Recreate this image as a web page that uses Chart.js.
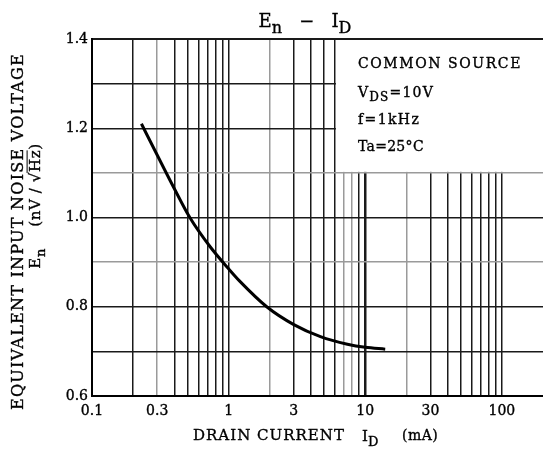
<!DOCTYPE html>
<html>
<head>
<meta charset="utf-8">
<script src="https://cdn.jsdelivr.net/npm/chart.js@4"></script>
<style>
  html, body { margin: 0; padding: 0; background: #fff; }
  canvas { display: block; }
</style>
</head>
<body>
<canvas id="enChart" width="543" height="458"></canvas>
<script>
// En vs ID curve
const drainCurrent = [0.23, 0.3, 0.4, 0.52, 0.73, 1.0, 1.2, 1.9, 3.0, 4.7, 7.4, 10, 14];
const noiseVoltage = [1.21, 1.14, 1.065, 1.0, 0.935, 0.885, 0.858, 0.80, 0.76, 0.733, 0.716, 0.709, 0.705];

// log grid of the x axis
const xGridValues = [0.1, 0.2, 0.3, 0.4, 0.5, 0.6, 0.7, 0.8, 0.9,
                     1, 2, 3, 4, 5, 6, 7, 8, 9,
                     10, 20, 30, 40, 50, 60, 70, 80, 90, 100];
const xTickValues = [0.1, 0.3, 1, 3, 10, 30, 100];
const xTickLabels = ['0.1', '0.3', '1', '3', '10', '30', '100'];
const xGrayLines = [0.3, 2, 7, 8, 20];

const yGridValues = [0.6, 0.7, 0.8, 0.9, 1.0, 1.1, 1.2, 1.3, 1.4];
const yTickValues = [0.6, 0.8, 1.0, 1.2, 1.4];
const yTickLabels = ['0.6', '0.8', '1.0', '1.2', '1.4'];
const yGrayLines = [0.9, 1.1];

// corner of the conditions box (x in mA, y in nV/√Hz)
const boxCorner = [6, 1.1];

const SERIF = '"DejaVu Serif", "Liberation Serif", serif';
const INK = '#000';

function near(a, b) {
    return Math.abs(a - b) / b < 1e-6;
}

function fontOf(size) {
    return size + 'px ' + SERIF;
}

// fill plus a hair stroke so the text reads as heavy as the printed one
function putText(ctx, text, x, y) {
    ctx.fillText(text, x, y);
    ctx.strokeText(text, x, y);
}

// draws a run of text pieces, some of them subscripted or overlined
function drawRun(ctx, parts, x, y, size, align, spacing) {
    const subSize = Math.round(size * 0.88);
    ctx.letterSpacing = (spacing || 0) + 'px';
    const widths = parts.map(p => {
        ctx.font = fontOf(p[1] === 'sub' ? subSize : size);
        return ctx.measureText(p[0]).width;
    });
    const total = widths.reduce((a, b) => a + b, 0);
    let cx = align === 'center' ? x - total / 2 : x;
    ctx.textAlign = 'left';
    parts.forEach((p, i) => {
        const sub = p[1] === 'sub';
        ctx.font = fontOf(sub ? subSize : size);
        putText(ctx, p[0], cx, y + (sub ? size * 0.32 : 0));
        if (p[1] === 'over') {
            ctx.save();
            ctx.lineWidth = 1;
            ctx.beginPath();
            ctx.moveTo(cx - 1, y - size * 0.86);
            ctx.lineTo(cx + widths[i] - (spacing || 0), y - size * 0.86);
            ctx.stroke();
            ctx.restore();
        }
        cx += widths[i];
    });
    ctx.letterSpacing = '0px';
}

// plain text stretched by letter spacing to a given width
function drawFitted(ctx, text, x, y, size, width, align) {
    ctx.font = fontOf(size);
    ctx.letterSpacing = '0px';
    const w0 = ctx.measureText(text).width;
    const s = (width - w0) / text.length;
    ctx.letterSpacing = s + 'px';
    ctx.textAlign = 'left';
    const startX = align === 'center' ? x - width / 2 : x;
    putText(ctx, text, startX, y);
    ctx.letterSpacing = '0px';
}

const textPlugin = {
    id: 'enText',
    beforeDatasetsDraw(chart) {
        const { ctx, chartArea, scales } = chart;
        const left = scales.x.getPixelForValue(boxCorner[0]) + 1;
        const bottom = scales.y.getPixelForValue(boxCorner[1]) - 1;
        ctx.save();
        ctx.fillStyle = '#fff';
        ctx.fillRect(left, chartArea.top + 1, chartArea.right - left, bottom - chartArea.top - 1);
        ctx.restore();
    },
    afterDraw(chart) {
        const { ctx, scales } = chart;
        ctx.save();
        ctx.fillStyle = INK;
        ctx.strokeStyle = INK;
        ctx.lineWidth = 0.35;
        ctx.textBaseline = 'alphabetic';

        // title
        drawRun(ctx, [['E'], ['n', 'sub'], ['   \u2212   '], ['I'], ['D', 'sub']], 305, 27, 18, 'center');

        // conditions box
        const bx = scales.x.getPixelForValue(boxCorner[0]) + 23;
        drawFitted(ctx, 'COMMON SOURCE', bx, 68, 14, 164, 'left');
        drawRun(ctx, [['V'], ['DS', 'sub'], ['=10V']], bx, 97, 14, 'left', 1.2);
        drawRun(ctx, [['f=1kHz']], bx, 124, 14, 'left', 1.4);
        drawRun(ctx, [['Ta=25\u00B0C']], bx, 151, 14, 'left', 0.3);

        // x axis title
        drawFitted(ctx, 'DRAIN CURRENT', 193, 440, 15, 152, 'left');
        drawRun(ctx, [['I'], ['D', 'sub']], 362, 441, 15, 'left');
        drawRun(ctx, [['(mA)']], 402, 440, 14, 'left', 0.5);

        // y axis title, two rotated lines
        ctx.save();
        ctx.translate(23, 231.5);
        ctx.rotate(-Math.PI / 2);
        drawFitted(ctx, 'EQUIVALENT INPUT NOISE VOLTAGE', 0, 0, 16, 357, 'center');
        ctx.restore();
        ctx.save();
        ctx.translate(40, 206);
        ctx.rotate(-Math.PI / 2);
        drawRun(ctx, [['E'], ['n', 'sub'], ['    (nV / \u221A'], ['Hz', 'over'], [')']], 0, 0, 15, 'center', 0.6);
        ctx.restore();

        ctx.restore();
    }
};

function initChart() {
    const ctx = document.getElementById('enChart').getContext('2d');

    new Chart(ctx, {
        type: 'line',
        data: {
            datasets: [{
                data: drainCurrent.map((x, i) => ({ x: x, y: noiseVoltage[i] })),
                borderColor: '#000',
                borderWidth: 3,
                pointRadius: 0,
                fill: false,
                cubicInterpolationMode: 'monotone'
            }]
        },
        options: {
            responsive: false,
            animation: false,
            layout: { padding: { top: 39, left: 0, right: 0, bottom: 0 } },
            plugins: {
                legend: { display: false },
                tooltip: { enabled: false },
                title: { display: false }
            },
            scales: {
                x: {
                    type: 'logarithmic',
                    min: 0.1,
                    max: 200,
                    afterBuildTicks: scale => {
                        scale.ticks = xGridValues.map(v => ({ value: v }));
                    },
                    afterFit: scale => { scale.height = 62; },
                    ticks: {
                        autoSkip: false,
                        maxRotation: 0,
                        padding: 7,
                        color: INK,
                        textStrokeColor: INK,
                        textStrokeWidth: 0.35,
                        font: { family: SERIF, size: 14 },
                        callback: value => {
                            const k = xTickValues.findIndex(t => near(value, t));
                            return k >= 0 ? xTickLabels[k] : '';
                        }
                    },
                    grid: {
                        drawTicks: false,
                        color: c => xGrayLines.some(v => near(c.tick.value, v)) ? '#9a9a9a' : '#1a1a1a',
                        lineWidth: c => near(c.tick.value, 10) ? 2.5 : 1.5
                    },
                    border: { color: '#000', width: 2 }
                },
                y: {
                    type: 'linear',
                    min: 0.6,
                    max: 1.4,
                    afterBuildTicks: scale => {
                        scale.ticks = yGridValues.map(v => ({ value: v }));
                    },
                    afterFit: scale => { scale.width = 92; },
                    ticks: {
                        autoSkip: false,
                        padding: 4,
                        color: INK,
                        textStrokeColor: INK,
                        textStrokeWidth: 0.35,
                        font: { family: SERIF, size: 14 },
                        callback: value => {
                            const k = yTickValues.findIndex(t => near(value, t));
                            return k >= 0 ? yTickLabels[k] : '';
                        }
                    },
                    grid: {
                        drawTicks: false,
                        color: c => yGrayLines.some(v => near(c.tick.value, v)) ? '#9a9a9a' : '#1a1a1a',
                        lineWidth: c => near(c.tick.value, 1.4) ? 2 : 1.5
                    },
                    border: { color: '#000', width: 2 }
                }
            }
        },
        plugins: [textPlugin]
    });
}

initChart();
</script>
</body>
</html>
